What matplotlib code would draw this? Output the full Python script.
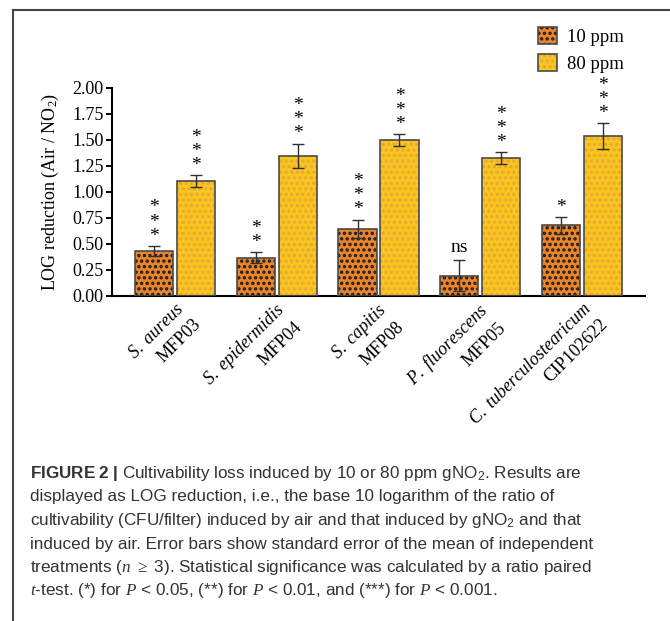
import numpy as np
import matplotlib
matplotlib.use('Agg')
import matplotlib.pyplot as plt
from matplotlib.patches import Patch
from matplotlib.lines import Line2D
from matplotlib.transforms import ScaledTranslation

# data
species = ['S.\\ aureus', 'S.\\ epidermidis', 'S.\\ capitis',
           'P.\\ fluorescens', 'C.\\ tuberculostearicum']
strains = ['MFP03', 'MFP04', 'MFP08', 'MFP05', 'CIP102622']
ppm10 = [0.43, 0.37, 0.645, 0.195, 0.68]
ppm10_err = [0.05, 0.05, 0.087, 0.147, 0.08]
ppm80 = [1.105, 1.35, 1.50, 1.325, 1.535]
ppm80_err = [0.055, 0.115, 0.055, 0.055, 0.125]
ppm10_sig = ['***', '**', '***', 'ns', '*']
ppm80_sig = ['***', '***', '***', '***', '***']
series_names = ['10 ppm', '80 ppm']

caption = [
    r'$\mathbf{FIGURE\ 2\ |}$ Cultivability loss induced by 10 or 80 ppm gNO$_\mathsf{2}$. Results are',
    'displayed as LOG reduction, i.e., the base 10 logarithm of the ratio of',
    r'cultivability (CFU/filter) induced by air and that induced by gNO$_\mathsf{2}$ and that',
    'induced by air. Error bars show standard error of the mean of independent',
    r'treatments ($n$ $\geq$ 3). Statistical significance was calculated by a ratio paired',
    r'$t$-test. (*) for $P$ < 0.05, (**) for $P$ < 0.01, and (***) for $P$ < 0.001.',
]

plt.rcParams['font.family'] = ['Liberation Serif', 'DejaVu Serif']
plt.rcParams['mathtext.fontset'] = 'custom'
plt.rcParams['mathtext.rm'] = 'Liberation Serif'
plt.rcParams['mathtext.it'] = 'Liberation Serif:italic'
plt.rcParams['mathtext.bf'] = 'Liberation Sans:bold'
plt.rcParams['mathtext.sf'] = 'Liberation Sans'
plt.rcParams['hatch.linewidth'] = 1.6

orange = '#e8842c'
yellow = '#f6c81c'
orange_dot = '#1a1a1a'
yellow_dot = '#f2a03c'
edge = '#4a4a4a'

fig = plt.figure(figsize=(6.7, 6.21), dpi=100)
W, H = 670, 621
ax = fig.add_axes([112 / W, 1 - 296 / H, 533 / W, 208 / H])

x = np.arange(len(strains))
bw = 0.378
off = 0.206

for vals, err, sig, dx, fc, hc in [(ppm10, ppm10_err, ppm10_sig, -off, orange, orange_dot),
                                   (ppm80, ppm80_err, ppm80_sig, off, yellow, yellow_dot)]:
    ax.bar(x + dx, vals, bw, color=fc, edgecolor=hc, hatch='...', linewidth=0, zorder=2)
    ax.bar(x + dx, vals, bw, fill=False, edgecolor=edge, linewidth=1.2, zorder=3)
    ax.errorbar(x + dx, vals, yerr=err, fmt='none', ecolor='#303030',
                elinewidth=1.0, capsize=4.5, capthick=1.0, zorder=4)
    for xi, v, e, s in zip(x + dx, vals, err, sig):
        if s == 'ns':
            ax.annotate(s, xy=(xi, v + e), xytext=(0, 3), textcoords='offset points',
                        ha='center', va='bottom', fontsize=14)
        else:
            # significance stars stacked vertically
            ax.annotate('\n'.join(s), xy=(xi, v + e), xytext=(0, 1),
                        textcoords='offset points', ha='center', va='bottom',
                        fontsize=14, linespacing=0.78)

ax.set_xlim(-0.62, 4.62)
ax.set_ylim(0, 2)
ax.set_yticks(np.arange(0, 2.01, 0.25))
ax.set_yticklabels([f'{v:.2f}' for v in np.arange(0, 2.01, 0.25)], fontsize=13)
ax.set_xticks(x)
ax.set_xticklabels([])
ax.tick_params(axis='x', length=0)
ax.tick_params(axis='y', length=4, width=1.4, pad=2)
for sp in ['top', 'right']:
    ax.spines[sp].set_visible(False)
for sp in ['left', 'bottom']:
    ax.spines[sp].set_linewidth(1.5)

# rotated two-line category labels, lines right-aligned
shift = ScaledTranslation(29 / 100, -4 / 100, fig.dpi_scale_trans)
for xi, sp, st in zip(x, species, strains):
    ax.text(xi, 0, '$\\mathit{' + sp + '}$\n' + st, transform=ax.get_xaxis_transform() + shift,
            rotation=45, ha='right', va='top', multialignment='right',
            linespacing=1.45, fontsize=13)

fig.text(50 / W, 1 - 192 / H, 'LOG reduction (Air / NO$_2$)', rotation=90,
         ha='center', va='center', fontsize=13)

handles = [(Patch(facecolor=orange, edgecolor=orange_dot, hatch='...', linewidth=0),
            Patch(fill=False, edgecolor=edge, linewidth=1.2)),
           (Patch(facecolor=yellow, edgecolor=yellow_dot, hatch='...', linewidth=0),
            Patch(fill=False, edgecolor=edge, linewidth=1.2))]
fig.legend(handles, series_names, loc='upper left', bbox_to_anchor=(521 / W, 1 - 10 / H),
           frameon=False, fontsize=13.5, handlelength=1.0, handleheight=1.0,
           handletextpad=0.55, labelspacing=0.45)

# frame around the figure panel
fig.add_artist(Line2D([13 / W, 13 / W], [0, 1 - 10 / H], transform=fig.transFigure,
                      color='#444444', linewidth=1.5))
fig.add_artist(Line2D([13 / W, 1], [1 - 10 / H, 1 - 10 / H], transform=fig.transFigure,
                      color='#444444', linewidth=1.5))

for i, line in enumerate(caption):
    fig.text(30 / W, 1 - (478 + 23.5 * i) / H, line, ha='left', va='baseline',
             fontsize=12.3, color='#333333', family=['Liberation Sans', 'DejaVu Sans'])

fig.savefig('out.png', dpi=100)
